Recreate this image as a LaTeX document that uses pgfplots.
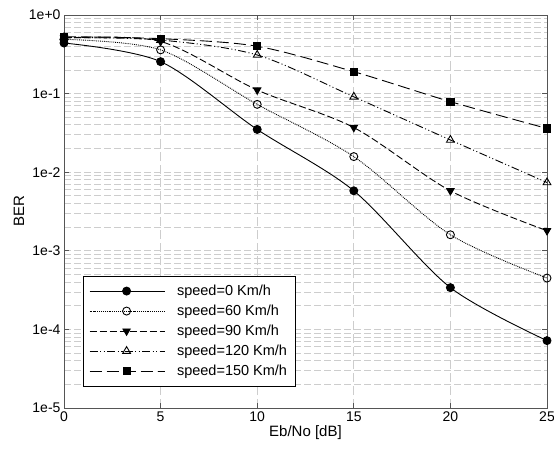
\documentclass[border=0pt]{standalone}
\usepackage{pgfplots}
\pgfplotsset{compat=1.18}
\usepackage{fontspec}
\setmainfont{Liberation Sans}
\definecolor{axgray}{RGB}{85,85,85}
\definecolor{gridgray}{RGB}{205,205,205}
\begin{document}
\begin{tikzpicture}
\useasboundingbox (-64pt,-50pt) rectangle (490pt,408pt);
\begin{axis}[
  scale only axis,
  width=483pt, height=393pt,
  xmin=0, xmax=25, ymode=log, ymin=1e-5, ymax=1,
  xtick={0,5,10,15,20,25},
  ytick={1e-5,1e-4,1e-3,1e-2,1e-1,1},
  yticklabels={1e-5,1e-4,1e-3,1e-2,1e-1,1e+0},
  /pgf/number format/assume math mode=true,
  tick label style={font=\fontsize{14}{16}\selectfont},
  xlabel={Eb/No [dB]}, ylabel={BER},
  label style={font=\fontsize{15}{17}\selectfont},
  xlabel style={yshift=3pt},
  ylabel style={yshift=-2pt},
  axis line style={axgray, line width=0.9pt},
  tick style={axgray, line width=0.8pt},
  major tick length=5pt, minor tick length=0pt,
  xmajorgrids, yminorgrids,
  major grid style={gridgray, dash pattern=on 9pt off 4pt, line width=0.8pt},
  minor grid style={gridgray, dash pattern=on 7pt off 3pt, line width=0.8pt},
  legend style={at={(0.039,0.055)}, anchor=south west, draw=black, line width=0.6pt,
    font=\fontsize{14.5}{16}\selectfont, row sep=4pt, inner xsep=6pt, inner ysep=7pt,
    /tikz/every odd column/.append style={column sep=10pt}},
  legend cell align=left,
  legend image code/.code={%
    \draw[mark repeat=2, mark phase=2, #1] plot coordinates {(0pt,0pt) (37pt,0pt) (75pt,0pt)};},
  every axis plot/.append style={black, line width=0.9pt, smooth},
]
\addplot[solid, mark=*, mark size=4pt, mark options={solid, fill=black}] coordinates {
(0,0.44) (5,0.255) (10,0.035) (15,0.0058) (20,0.00034) (25,0.000072)};
\addlegendentry{speed=0 Km/h}
\addplot[densely dotted, mark=o, mark size=4pt, mark options={solid, fill=white}] coordinates {
(0,0.49) (5,0.36) (10,0.073) (15,0.0158) (20,0.0016) (25,0.00045)};
\addlegendentry{speed=60 Km/h}
\addplot[dash pattern=on 7pt off 3pt, mark=triangle*, mark size=4.2pt, mark options={solid, fill=black, rotate=180}] coordinates {
(0,0.51) (5,0.46) (10,0.111) (15,0.037) (20,0.0058) (25,0.0018)};
\addlegendentry{speed=90 Km/h}
\addplot[dash pattern=on 8pt off 2.5pt on 1pt off 2.5pt on 1pt off 2.5pt, mark=triangle, mark size=4.5pt, mark options={solid, fill=white}] coordinates {
(0,0.52) (5,0.48) (10,0.31) (15,0.091) (20,0.0257) (25,0.0074)};
\addlegendentry{speed=120 Km/h}
\addplot[dash pattern=on 12pt off 5pt, mark=square*, mark size=3.6pt, mark options={solid, fill=black}] coordinates {
(0,0.53) (5,0.50) (10,0.40) (15,0.19) (20,0.079) (25,0.036)};
\addlegendentry{speed=150 Km/h}
\end{axis}
\end{tikzpicture}
\end{document}
